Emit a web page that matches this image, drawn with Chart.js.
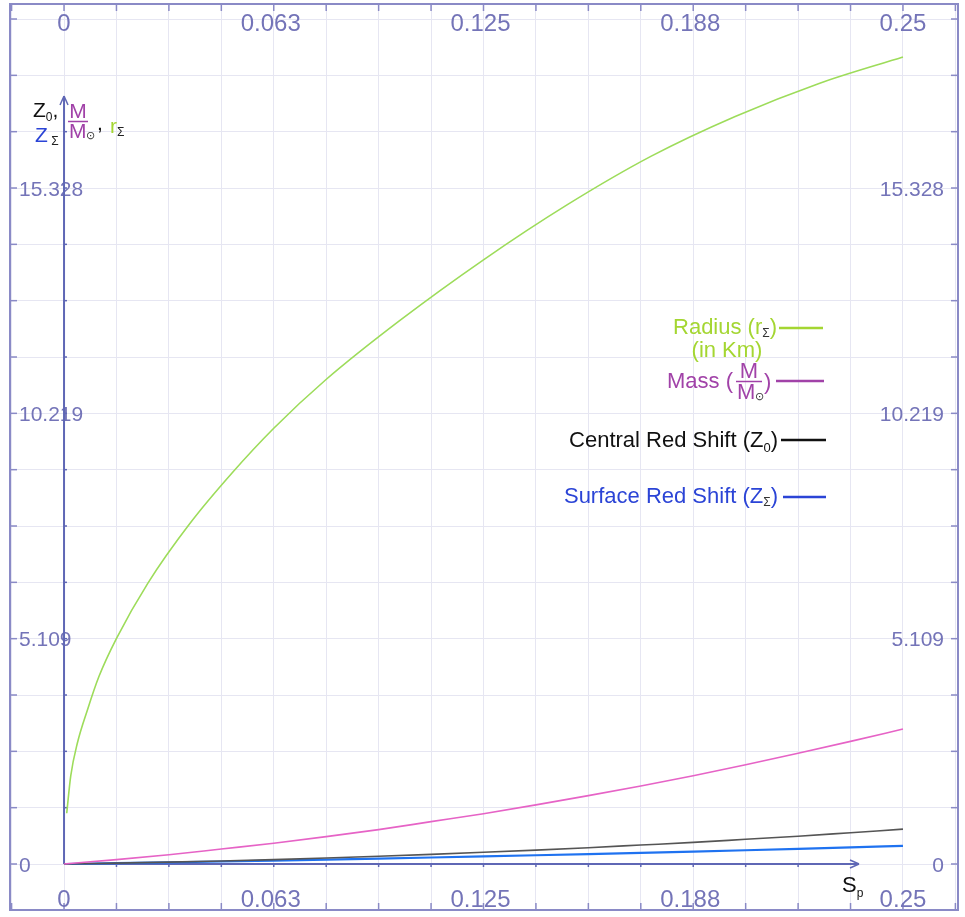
<!DOCTYPE html>
<html>
<head>
<meta charset="utf-8">
<script src="https://cdn.jsdelivr.net/npm/chart.js@4.4.1/dist/chart.umd.min.js"></script>
<style>
    html, body { margin: 0; padding: 0; background: #fff; }
    canvas { display: block; }
</style>
</head>
<body>
<canvas id="starChart" width="965" height="917"></canvas>
<script>
// radius curve is sampled more densely near Sp = 0 where it climbs steeply
const radiusSp = [0.0008, 0.002, 0.004, 0.007, 0.0104, 0.0156, 0.025, 0.0375, 0.05, 0.0625, 0.078, 0.1, 0.125, 0.15, 0.175, 0.2, 0.225, 0.25];
const radiusKm = [1.15, 2.0, 2.75, 3.5, 4.25, 5.11, 6.37, 7.72, 8.86, 9.88, 10.98, 12.32, 13.7, 14.95, 16.05, 16.95, 17.7, 18.3];

const seriesSp = [0, 0.015625, 0.03125, 0.046875, 0.0625, 0.078125, 0.09375, 0.109375, 0.125, 0.140625, 0.15625, 0.171875, 0.1875, 0.203125, 0.21875, 0.234375, 0.25];
const massRatio = [0, 0.10, 0.21, 0.34, 0.47, 0.62, 0.78, 0.96, 1.14, 1.34, 1.55, 1.77, 2.00, 2.25, 2.51, 2.78, 3.06];
const centralRedShift = [0, 0.02, 0.042, 0.068, 0.10, 0.135, 0.175, 0.218, 0.265, 0.315, 0.37, 0.43, 0.49, 0.56, 0.63, 0.71, 0.79];
const surfaceRedShift = [0, 0.018, 0.037, 0.057, 0.078, 0.10, 0.123, 0.147, 0.172, 0.198, 0.225, 0.253, 0.282, 0.312, 0.343, 0.376, 0.41];

const xTickValues = [0, 0.0625, 0.125, 0.1875, 0.25];
const xTickLabels = ['0', '0.063', '0.125', '0.188', '0.25'];
const yTickValues = [0, 5.10925, 10.2185, 15.32775];
const yTickLabels = ['0', '5.109', '10.219', '15.328'];

const xGridStep = 0.015625;
const yGridStep = 1.2773125;

const FONT = '"Liberation Sans", Arial, sans-serif';
const AXIS_TEXT = '#7474b8';
const FRAME = '#8a8ac6';
const AXIS = '#5f67b5';
const GREEN = '#a4d632';
const PURPLE = '#a142a8';
const BLUE = '#2b44d6';

const toPoints = (xs, ys) => xs.map((x, i) => ({ x, y: ys[i] }));

const gridTicks = (scale, step) => {
    const ticks = [];
    for (let k = Math.ceil(scale.min / step); k * step <= scale.max; k++) ticks.push({ value: k * step });
    scale.ticks = ticks;
};

// draws a run of text pieces, each with its own colour/size/vertical shift
const drawRun = (ctx, x, y, parts, align = 'left') => {
    const widths = parts.map(p => {
        ctx.font = `${p.size}px ${FONT}`;
        return ctx.measureText(p.t).width;
    });
    const total = widths.reduce((a, b) => a + b, 0);
    let cx = align === 'right' ? x - total : align === 'center' ? x - total / 2 : x;
    ctx.textAlign = 'left';
    ctx.textBaseline = 'alphabetic';
    parts.forEach((p, i) => {
        ctx.font = `${p.size}px ${FONT}`;
        ctx.fillStyle = p.color;
        ctx.fillText(p.t, cx, y + (p.dy || 0));
        cx += widths[i];
    });
};

const line = (ctx, x1, y1, x2, y2, color, width) => {
    ctx.beginPath();
    ctx.strokeStyle = color;
    ctx.lineWidth = width;
    ctx.moveTo(x1, y1);
    ctx.lineTo(x2, y2);
    ctx.stroke();
};

// M over M-sun fraction
const drawMassFraction = (ctx, cx, barY, width, color, size) => {
    ctx.font = `${size}px ${FONT}`;
    ctx.fillStyle = color;
    ctx.textAlign = 'center';
    ctx.textBaseline = 'alphabetic';
    ctx.fillText('M', cx, barY - 4);
    line(ctx, cx - width / 2, barY, cx + width / 2, barY, color, 1.5);
    drawRun(ctx, cx - width / 2 + 1, barY + size * 0.8, [
        { t: 'M', color, size },
        { t: '\u2299', color: '#333', size: size * 0.5, dy: 1 }
    ]);
};

const framePlugin = {
    id: 'frame',
    beforeDatasetsDraw(chart) {
        const { ctx, chartArea: a, scales: { x, y } } = chart;
        ctx.save();

        // outer frame with inward ticks at every grid line
        ctx.strokeStyle = FRAME;
        ctx.lineWidth = 2;
        ctx.strokeRect(a.left, a.top, a.right - a.left, a.bottom - a.top);
        x.ticks.forEach(t => {
            const px = x.getPixelForValue(t.value);
            line(ctx, px, a.top, px, a.top + 7, FRAME, 1.5);
            line(ctx, px, a.bottom - 7, px, a.bottom, FRAME, 1.5);
        });
        y.ticks.forEach(t => {
            const py = y.getPixelForValue(t.value);
            line(ctx, a.left, py, a.left + 7, py, FRAME, 1.5);
            line(ctx, a.right - 7, py, a.right, py, FRAME, 1.5);
        });

        // tick labels on all four sides
        ctx.fillStyle = AXIS_TEXT;
        ctx.textBaseline = 'alphabetic';
        ctx.font = `24px ${FONT}`;
        ctx.textAlign = 'center';
        xTickValues.forEach((v, i) => {
            const px = x.getPixelForValue(v) - (v > 0 && v < 0.25 ? 3 : 0);
            ctx.fillText(xTickLabels[i], px, a.top + 27);
            ctx.fillText(xTickLabels[i], px, a.bottom - 3);
        });
        ctx.font = `21px ${FONT}`;
        yTickValues.forEach((v, i) => {
            const py = y.getPixelForValue(v) + 7.5;
            ctx.textAlign = 'left';
            ctx.fillText(yTickLabels[i], a.left + 9, py);
            ctx.textAlign = 'right';
            ctx.fillText(yTickLabels[i], a.right - 14, py);
        });

        // coordinate axes with arrow heads
        const ox = x.getPixelForValue(0);
        const oy = y.getPixelForValue(0);
        const yTip = 96;
        const xTip = 859;
        line(ctx, ox, oy, ox, yTip, AXIS, 2);
        line(ctx, ox, yTip, ox - 4, yTip + 9, AXIS, 1.5);
        line(ctx, ox, yTip, ox + 4, yTip + 9, AXIS, 1.5);
        line(ctx, ox, oy, xTip, oy, AXIS, 2);
        line(ctx, xTip, oy, xTip - 9, oy - 4, AXIS, 1.5);
        line(ctx, xTip, oy, xTip - 9, oy + 4, AXIS, 1.5);
        x.ticks.forEach(t => {
            const px = x.getPixelForValue(t.value);
            if (t.value > 0 && px < xTip - 10) line(ctx, px, oy, px, oy + 3, AXIS, 1.5);
        });
        y.ticks.forEach(t => {
            const py = y.getPixelForValue(t.value);
            if (t.value > 0 && py > yTip + 12) line(ctx, ox, py, ox + 3, py, AXIS, 1.5);
        });

        // axis titles
        drawRun(ctx, 33, 117, [
            { t: 'Z', color: '#111', size: 21 },
            { t: '0', color: '#111', size: 12, dy: 4 },
            { t: ',', color: '#111', size: 21 }
        ]);
        drawMassFraction(ctx, 78, 121.5, 20, PURPLE, 21);
        drawRun(ctx, 97, 130, [{ t: ',', color: '#111', size: 21 }]);
        drawRun(ctx, 110, 133, [
            { t: 'r', color: GREEN, size: 21 },
            { t: '\u03a3', color: '#222', size: 12, dy: 3 }
        ]);
        drawRun(ctx, 35, 142, [
            { t: 'Z', color: BLUE, size: 21 },
            { t: ' \u03a3', color: '#222', size: 12, dy: 3 }
        ]);
        drawRun(ctx, 842, 892, [
            { t: 'S', color: '#111', size: 22 },
            { t: 'p', color: '#111', size: 12, dy: 5 }
        ]);

        ctx.restore();
    },
    afterDatasetsDraw(chart) {
        const { ctx } = chart;
        ctx.save();

        // series key
        drawRun(ctx, 777, 334, [
            { t: 'Radius (r', color: GREEN, size: 22 },
            { t: '\u03a3', color: '#333', size: 12, dy: 3 },
            { t: ')', color: GREEN, size: 22 }
        ], 'right');
        drawRun(ctx, 727, 357, [{ t: '(in Km)', color: GREEN, size: 22 }], 'center');
        line(ctx, 779, 328, 823, 328, GREEN, 2.5);

        drawRun(ctx, 667, 388, [{ t: 'Mass (', color: PURPLE, size: 22 }]);
        drawMassFraction(ctx, 749, 381.5, 26, PURPLE, 22);
        drawRun(ctx, 764, 389, [{ t: ')', color: PURPLE, size: 22 }]);
        line(ctx, 776, 381, 824, 381, PURPLE, 2.5);

        drawRun(ctx, 778, 447, [
            { t: 'Central Red Shift (Z', color: '#111', size: 22 },
            { t: '0', color: '#111', size: 13, dy: 5 },
            { t: ')', color: '#111', size: 22 }
        ], 'right');
        line(ctx, 781, 440, 826, 440, '#111', 2.5);

        drawRun(ctx, 778, 503, [
            { t: 'Surface Red Shift (Z', color: BLUE, size: 22 },
            { t: '\u03a3', color: '#333', size: 12, dy: 3 },
            { t: ')', color: BLUE, size: 22 }
        ], 'right');
        line(ctx, 783, 497, 826, 497, BLUE, 2.5);

        ctx.restore();
    }
};

const lineSet = (data, color, width) => ({
    data,
    showLine: true,
    borderColor: color,
    borderWidth: width,
    pointRadius: 0,
    cubicInterpolationMode: 'monotone',
    fill: false
});

new Chart(document.getElementById('starChart'), {
    type: 'scatter',
    data: {
        datasets: [
            lineSet(toPoints(radiusSp, radiusKm), '#9ddc5a', 1.6),
            lineSet(toPoints(seriesSp, massRatio), '#e663c6', 1.6),
            lineSet(toPoints(seriesSp, centralRedShift), '#555555', 1.6),
            lineSet(toPoints(seriesSp, surfaceRedShift), '#1f72f0', 2.2)
        ]
    },
    options: {
        responsive: false,
        animation: false,
        devicePixelRatio: 1,
        layout: { padding: { left: 10, right: 7, top: 4, bottom: 7 } },
        plugins: { legend: { display: false }, tooltip: { enabled: false } },
        scales: {
            x: {
                type: 'linear',
                min: -0.0161,
                max: 0.2664,
                afterBuildTicks: s => gridTicks(s, xGridStep),
                afterFit: s => { s.height = 0; },
                ticks: { display: false },
                grid: { color: '#e6e6f2', lineWidth: 1, drawTicks: false },
                border: { display: false }
            },
            y: {
                type: 'linear',
                min: -1.043,
                max: 19.5,
                afterBuildTicks: s => gridTicks(s, yGridStep),
                afterFit: s => { s.width = 0; },
                ticks: { display: false },
                grid: { color: '#e6e6f2', lineWidth: 1, drawTicks: false },
                border: { display: false }
            }
        }
    },
    plugins: [framePlugin]
});
</script>
</body>
</html>
